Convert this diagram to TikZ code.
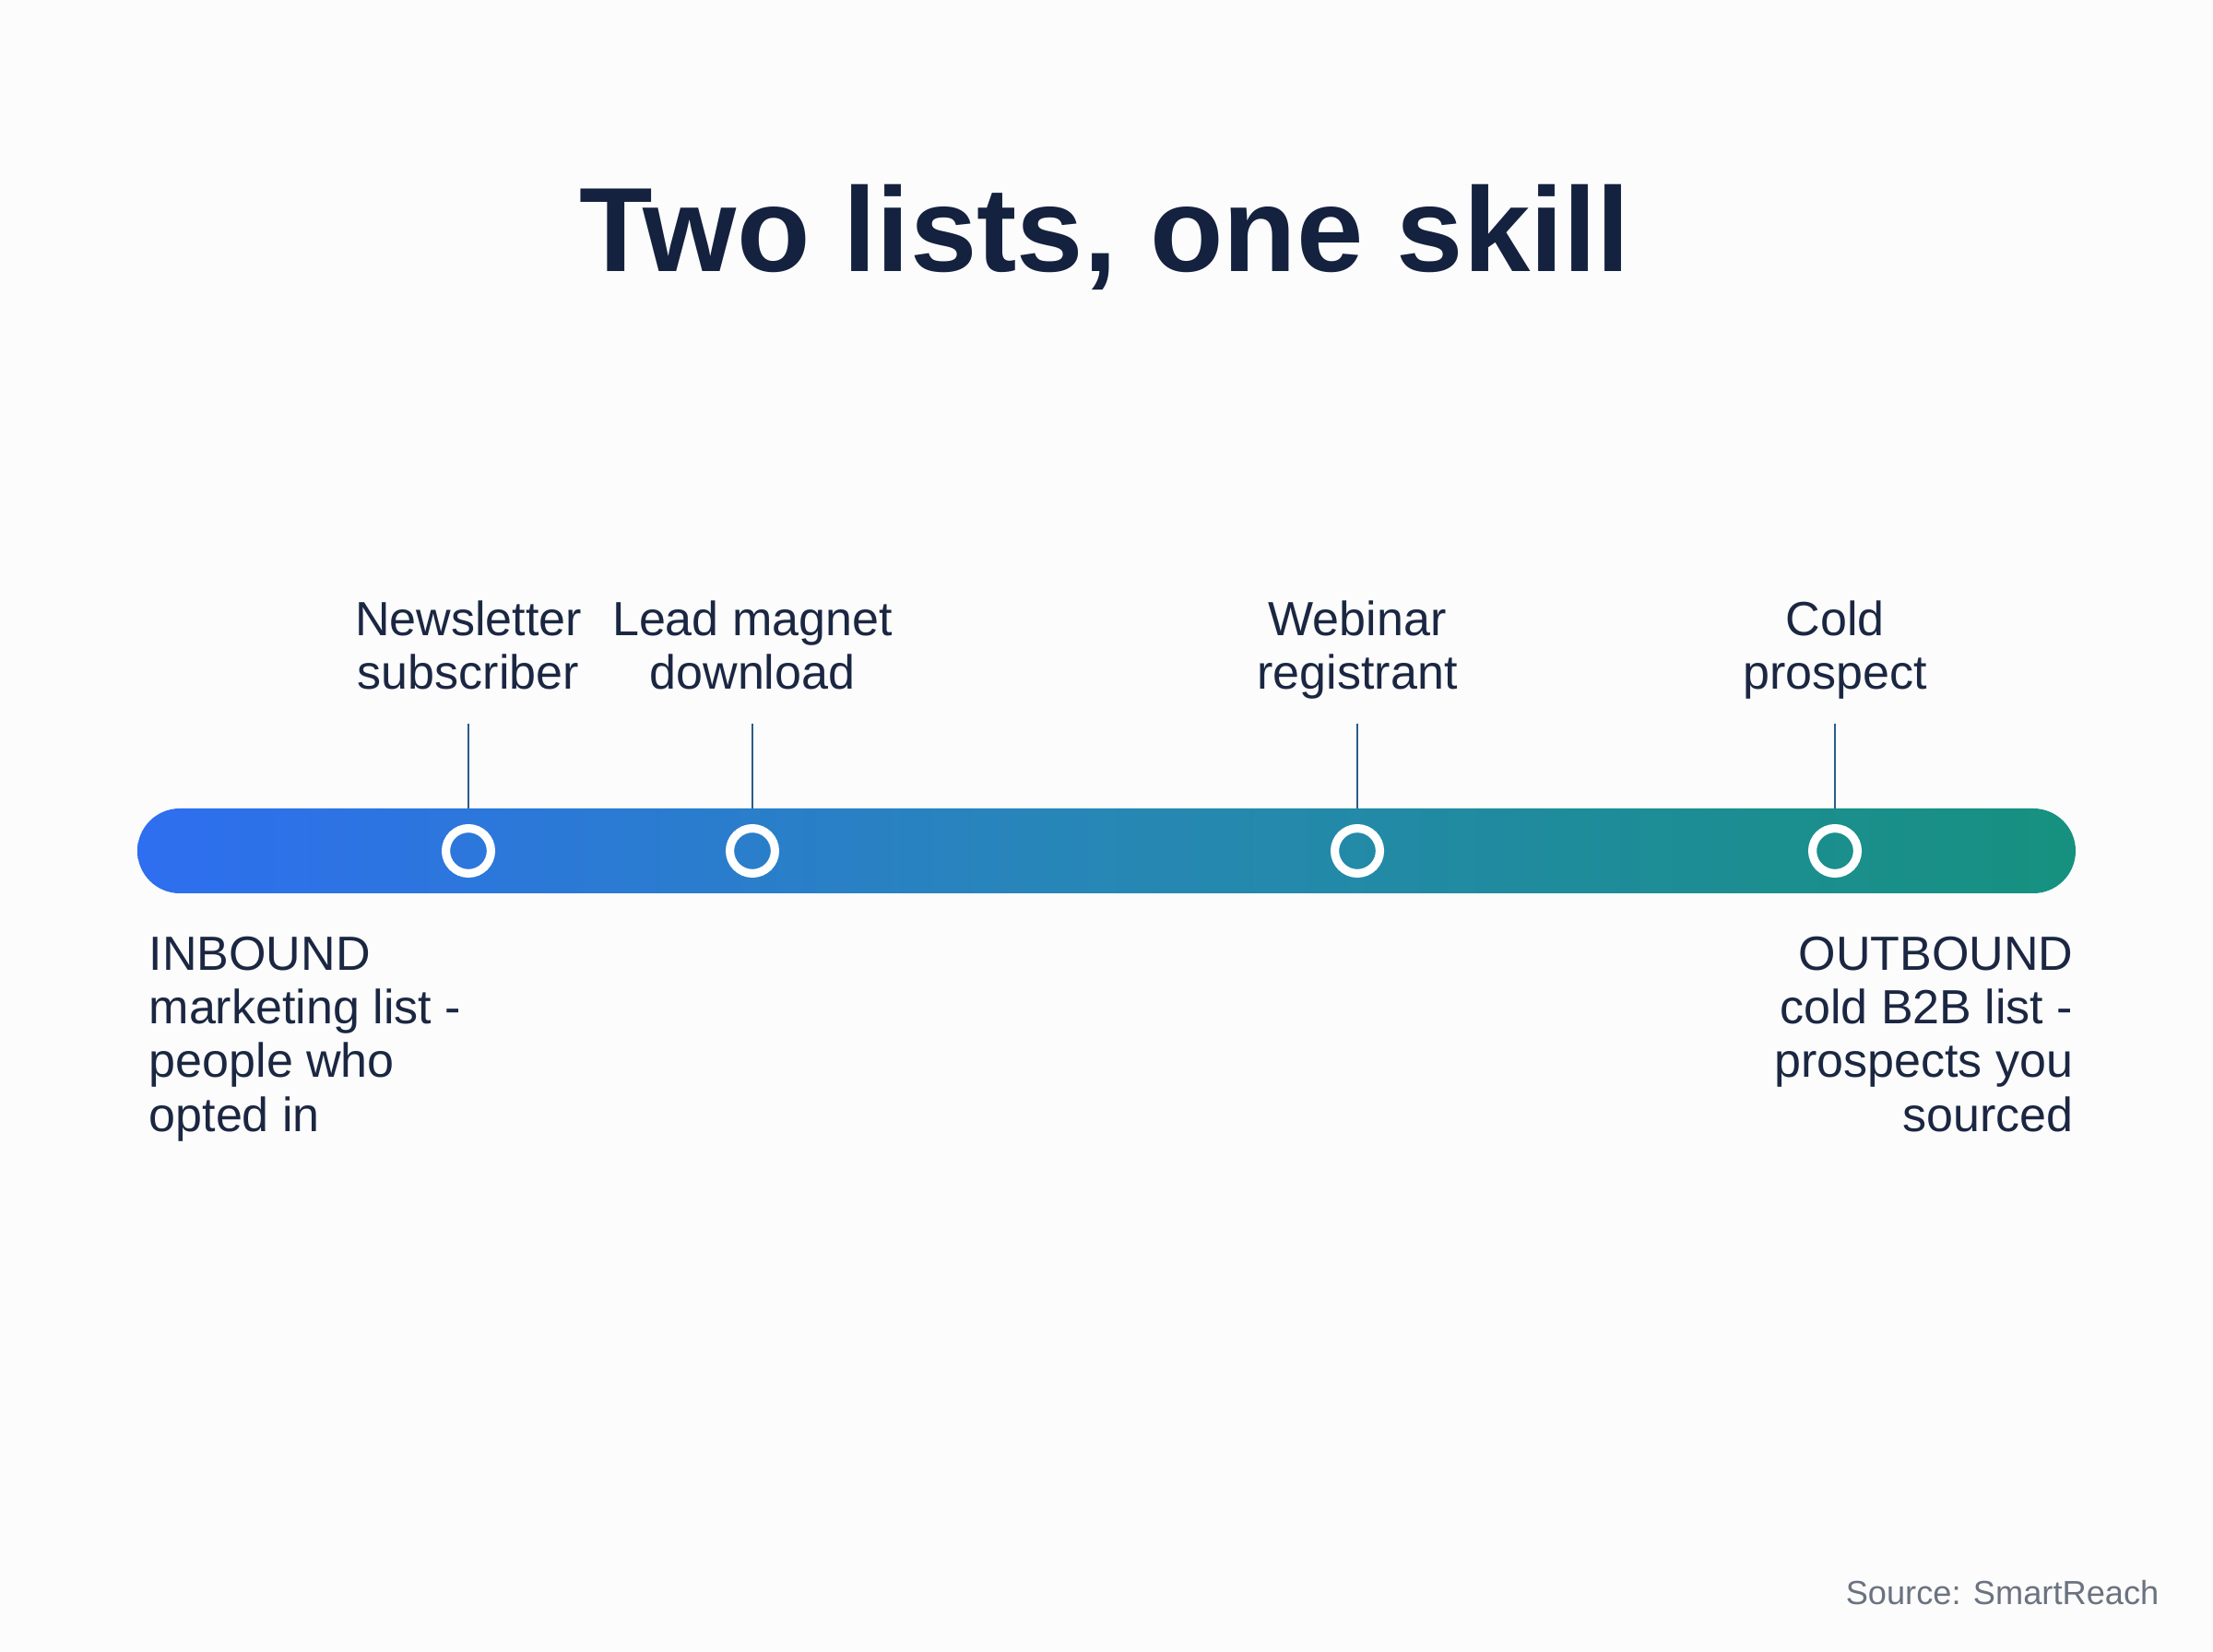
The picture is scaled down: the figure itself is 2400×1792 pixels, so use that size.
\documentclass[tikz,border=0pt]{standalone}
\usepackage{fontspec}
\setmainfont{Liberation Sans}
\definecolor{bg}{HTML}{FBFCFB}
\definecolor{navy}{HTML}{14213F}
\definecolor{txt}{HTML}{1B2742}
\definecolor{barL}{HTML}{2E6EF0}
\definecolor{barM}{HTML}{2787B5}
\definecolor{barR}{HTML}{16917F}
\definecolor{tick}{HTML}{2C5C8A}
\definecolor{srcgray}{HTML}{6B7280}
\tikzset{
  lbl/.style={font=\fontsize{14.8pt}{16.5pt}\selectfont, text=txt, inner sep=0pt, align=center},
  lblL/.style={lbl, align=left},
  lblR/.style={lbl, align=right},
  ring/.style={draw=white, line width=2.6pt, circle, minimum size=13.9pt, inner sep=0pt},
  tickline/.style={draw=tick, line width=0.6pt},
}
\begin{document}
\begin{tikzpicture}[x=0.01cm,y=-0.01cm]
\fill[bg] (0,0) rectangle (2400,1792);
\useasboundingbox (0,0) rectangle (2400,1792);
% title
\node[font=\fontsize{37pt}{40pt}\selectfont\bfseries, text=navy, anchor=base, inner sep=0pt] (title) at (1198,295) {Two lists, one skill};
% bar
\shade[left color=barL, right color=barR, middle color=barM, rounded corners=46*0.01cm] (149,877) rectangle (2251,969);
\coordinate (bartop1) at (508,877);
\coordinate (bartop2) at (816,877);
\coordinate (bartop3) at (1472,877);
\coordinate (bartop4) at (1990,877);
% rings
\node[ring] (c1) at (508,923) {};
\node[ring] (c2) at (816,923) {};
\node[ring] (c3) at (1472,923) {};
\node[ring] (c4) at (1990,923) {};
% labels above (base = baseline of last line)
\node[lbl, anchor=base] (l1) at (508,748) {Newsletter\\subscriber};
\node[lbl, anchor=base] (l2) at (816,748) {Lead magnet\\download};
\node[lbl, anchor=base] (l3) at (1472,748) {Webinar\\registrant};
\node[lbl, anchor=base] (l4) at (1990,748) {Cold\\prospect};
\coordinate (t1) at (508,785);
\coordinate (t2) at (816,785);
\coordinate (t3) at (1472,785);
\coordinate (t4) at (1990,785);
\draw[tickline] (t1) -- (bartop1);
\draw[tickline] (t2) -- (bartop2);
\draw[tickline] (t3) -- (bartop3);
\draw[tickline] (t4) -- (bartop4);
% bottom labels
\node[lblL, anchor=base west] (inb) at (161,1227) {INBOUND\\marketing list -\\people who\\opted in};
\node[lblR, anchor=base east] (outb) at (2249,1227) {OUTBOUND\\cold B2B list -\\prospects you\\sourced};
% source
\node[font=\fontsize{10.3pt}{12pt}\selectfont, text=srcgray, anchor=base east, inner sep=0pt] (src) at (2342,1740) {Source: SmartReach};
\end{tikzpicture}
\end{document}
